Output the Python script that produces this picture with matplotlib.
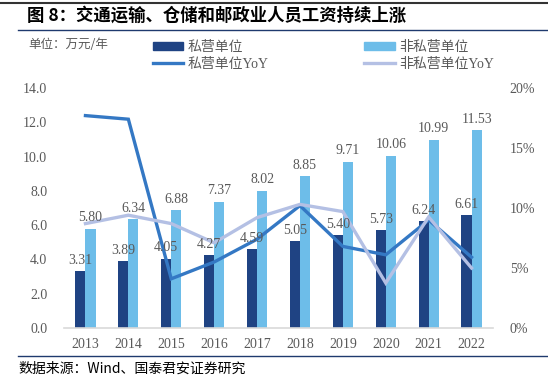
import matplotlib
matplotlib.use("Agg")
import matplotlib.pyplot as plt
from matplotlib.lines import Line2D
from matplotlib.patches import Patch
import numpy as np

plt.rcParams['font.family'] = ['Liberation Serif', 'Noto Sans CJK SC']

years = ['2013', '2014', '2015', '2016', '2017', '2018', '2019', '2020', '2021', '2022']
private = [3.31, 3.89, 4.05, 4.27, 4.59, 5.05, 5.40, 5.73, 6.24, 6.61]
nonprivate = [5.80, 6.34, 6.88, 7.37, 8.02, 8.85, 9.71, 10.06, 10.99, 11.53]
private_yoy = [17.7, 17.4, 4.1, 5.5, 7.4, 10.2, 6.8, 6.1, 9.0, 5.9]
nonprivate_yoy = [8.7, 9.4, 8.7, 7.1, 9.2, 10.3, 9.7, 3.75, 9.25, 5.0]

c_dark = '#1F4383'
c_light = '#6DBDE9'
c_line1 = '#3478C4'
c_line2 = '#B4C0E4'
c_text = '#595959'
c_rule = '#1F3A6E'

fig = plt.figure(figsize=(5.48, 3.77), dpi=100)
ax = fig.add_axes([64/548, 1-328/377, (493-64)/548, (328-88)/377])
ax2 = ax.twinx()

x = np.arange(len(years))
w = 0.235
b1 = ax.bar(x - w/2, private, w, color=c_dark)
b2 = ax.bar(x + w/2, nonprivate, w, color=c_light)

l1, = ax2.plot(x, private_yoy, color=c_line1, lw=2.4, solid_joinstyle='miter')
l2, = ax2.plot(x, nonprivate_yoy, color=c_line2, lw=2.4, solid_joinstyle='miter')

for xi, v in zip(x - w/2, private):
    ax2.annotate(f'{v:.2f}', xy=(xi, v), xycoords=ax.transData, xytext=(0, 3),
                 textcoords='offset points', ha='center', va='bottom',
                 fontsize=10, color=c_text, family='Liberation Serif')
for xi, v in zip(x + w/2, nonprivate):
    ax2.annotate(f'{v:.2f}', xy=(xi, v), xycoords=ax.transData, xytext=(0, 3),
                 textcoords='offset points', ha='center', va='bottom',
                 fontsize=10, color=c_text, family='Liberation Serif')

ax.set_xlim(-0.5, len(years) - 0.5)
ax.set_ylim(0, 14)
ax2.set_ylim(0, 20)
ax.set_yticks(np.arange(0, 14.1, 2))
ax.set_yticklabels([f'{t:.1f}' for t in np.arange(0, 14.1, 2)])
ax2.set_yticks(np.arange(0, 20.1, 5))
ax2.set_yticklabels([f'{int(t)}%' for t in np.arange(0, 20.1, 5)])
ax.set_xticks(x)
ax.set_xticklabels(years)

for a in (ax, ax2):
    for s in ['top', 'right', 'left', 'bottom']:
        a.spines[s].set_visible(False)
    a.tick_params(length=0, labelsize=10, labelcolor=c_text)
ax.spines['bottom'].set_visible(True)
ax.spines['bottom'].set_color('#D9D9D9')
ax.spines['bottom'].set_linewidth(1.2)
ax.tick_params(axis='y', pad=12)
ax.tick_params(axis='x', pad=7)
ax2.tick_params(axis='y', pad=12)

# Legend
handles = [Patch(color=c_dark), Line2D([], [], color=c_line1, lw=2.4),
           Patch(color=c_light), Line2D([], [], color=c_line2, lw=2.4)]
labels = ['私营单位', '私营单位YoY', '非私营单位', '非私营单位YoY']
leg = fig.legend(handles, labels, ncol=2, loc='upper left',
                 bbox_to_anchor=(140/548, 1-28/377), frameon=False,
                 handlelength=2.2, handleheight=0.5, handletextpad=0.3,
                 columnspacing=6.9, labelspacing=0.3,
                 prop={'family': ['Liberation Serif', 'Noto Sans CJK SC'], 'size': 10})
for t in leg.get_texts():
    t.set_color(c_text)

fig.text(28/548, 1-45/377, '单位：万元/年', fontsize=9, color=c_text,
         family=['Noto Sans CJK SC'], va='center', ha='left')

# Title and rules
fig.text(27/548, 1-16/377, '图 8：交通运输、仓储和邮政业人员工资持续上涨', fontsize=12.5,
         fontweight='bold', color='black', family=['Noto Sans CJK SC'], va='center', ha='left')
fig.add_artist(Line2D([0, 1], [1-2.5/377, 1-2.5/377], color='#333333', lw=1.5))
fig.add_artist(Line2D([18/548, 1], [1-30/377, 1-30/377], color=c_rule, lw=1.0))
fig.add_artist(Line2D([18/548, 1], [1-356/377, 1-356/377], color=c_rule, lw=1.0))
fig.text(18/548, 1-369/377, '数据来源：Wind、国泰君安证券研究', fontsize=10,
         color='black', family=['Noto Sans CJK SC'], va='center', ha='left')

fig.savefig('out.png', dpi=100)
